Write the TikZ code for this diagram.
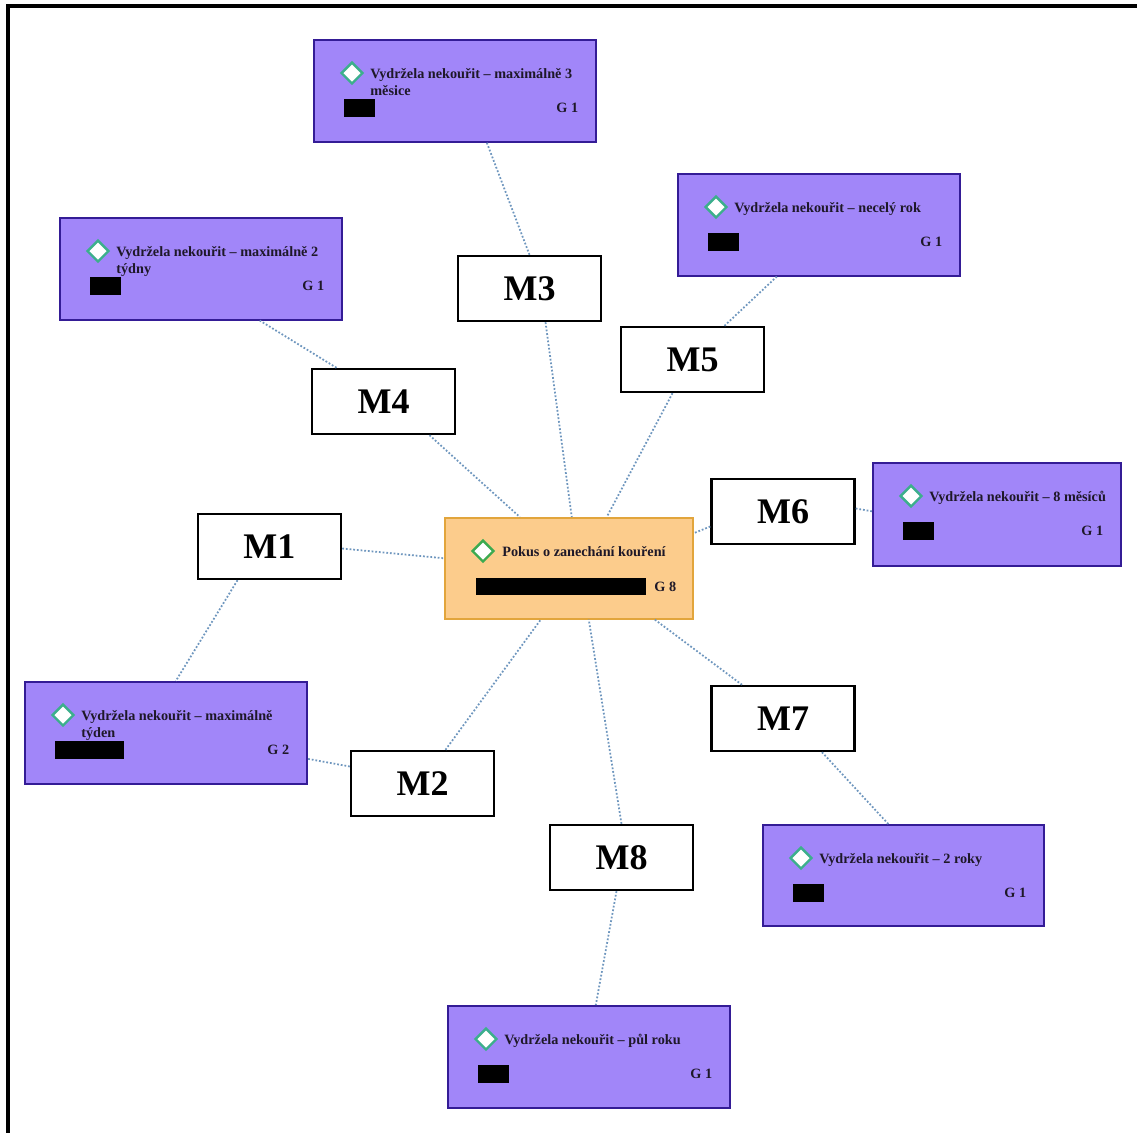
\documentclass[tikz,border=0pt]{standalone}
\usepackage{fontspec}
\setmainfont{Liberation Serif}
\usetikzlibrary{shapes.geometric,calc}

\definecolor{purplefill}{RGB}{161,134,249}
\definecolor{purpleline}{RGB}{52,28,150}
\definecolor{orangefill}{RGB}{252,204,140}
\definecolor{orangeline}{RGB}{226,165,60}
\definecolor{greenmark}{RGB}{60,170,80}
\definecolor{tealmark}{RGB}{60,175,140}
\definecolor{linkblue}{RGB}{110,150,190}
\definecolor{inkdark}{RGB}{30,24,40}

% one outcome box: name, left, top, width, height, first line, group label, bar width
\newcommand\outcome[8]{%
  \node[outbox, minimum width=#4*0.02cm, minimum height=#5*0.02cm] (#1) at (#2,#3) {};
  \node[gem, draw=tealmark] (#1d) at ($(#1.north west)+(39,34)$) {};
  \node[txt, anchor=base west] (#1t) at ($(#1.north west)+(57,39)$) {#6};
  \node[bar, minimum width=#8*0.02cm] (#1b) at ($(#1.north west)+(31,60)$) {};
  \node[txt, anchor=base east] (#1g) at ($(#1.north east)+(-18,73)$) {#7};
}

\begin{document}
\begin{tikzpicture}[x=0.02cm,y=-0.02cm,
  outbox/.style={draw=purpleline, line width=0.9pt, fill=purplefill, inner sep=0, anchor=north west},
  mbox/.style={draw=black, line width=1.4pt, fill=white, minimum width=2.86cm, minimum height=1.3cm,
    inner sep=0, font=\fontsize{20.5}{24}\selectfont\bfseries},
  txt/.style={font=\fontsize{8.1}{9.7}\selectfont\bfseries, text=inkdark, inner sep=0},
  gem/.style={diamond, fill=white, line width=1.4pt, minimum width=0.44cm, minimum height=0.44cm, inner sep=0},
  bar/.style={fill=black, inner sep=0, minimum height=0.36cm, anchor=north west},
  link/.style={draw=linkblue, line width=1pt, dash pattern=on 1pt off 1.1pt}]

\useasboundingbox (0,0) rectangle (1137,1133);
\fill[white] (0,0) rectangle (1137,1133);
% page frame (top and left edges)
\draw[line width=2.1pt] (8,1133) -- (8,6) -- (1137,6);

% central node
\node[draw=orangeline, line width=0.9pt, fill=orangefill, inner sep=0, anchor=north west,
  minimum width=4.96cm, minimum height=2.02cm] (ctr) at (444,517) {};
\node[gem, draw=greenmark] (ctrd) at ($(ctr.north west)+(39,34)$) {};
\node[txt, anchor=base west] (ctrt) at ($(ctr.north west)+(58,39)$) {Pokus o zanechání kouření};
\node[bar, minimum width=3.4cm, minimum height=0.34cm] (ctrb) at ($(ctr.north west)+(32,61)$) {};
\node[txt, anchor=base east] (ctrg) at ($(ctr.north east)+(-17,74)$) {G 8};

% outcome boxes
\outcome{o3}{313}{39}{282}{102}{Vydržela nekouřit – maximálně 3}{G 1}{31}
\node[txt, anchor=base west] (o3t2) at ($(o3t.base west)+(0,17)$) {měsice};
\outcome{o5}{677}{173}{282}{102}{Vydržela nekouřit – necelý rok}{G 1}{31}
\outcome{o4}{59}{217}{282}{102}{Vydržela nekouřit – maximálně 2}{G 1}{31}
\node[txt, anchor=base west] (o4t2) at ($(o4t.base west)+(0,17)$) {týdny};
\outcome{o6}{872}{462}{248}{103}{Vydržela nekouřit – 8 měsíců}{G 1}{31}
\outcome{o1}{24}{681}{282}{102}{Vydržela nekouřit – maximálně}{G 2}{69}
\node[txt, anchor=base west] (o1t2) at ($(o1t.base west)+(0,17)$) {týden};
\outcome{o7}{762}{824}{281}{101}{Vydržela nekouřit – 2 roky}{G 1}{31}
\outcome{o8}{447}{1005}{282}{102}{Vydržela nekouřit – půl roku}{G 1}{31}

% M labels
\node[mbox] (m1) at (269.5,546.5) {M1};
\node[mbox] (m2) at (422.5,783.5) {M2};
\node[mbox] (m3) at (529.5,288.5) {M3};
\node[mbox] (m4) at (383.5,401.5) {M4};
\node[mbox] (m5) at (692.5,359.5) {M5};
\node[mbox] (m6) at (783,511.5) {M6};
\node[mbox] (m7) at (783,718.5) {M7};
\node[mbox] (m8) at (621.5,857.5) {M8};

% connectors
\draw[link] ($(m1.east)+(0,2)$) -- ($(ctr.west)+(0,-10)$);
\draw[link] ($(m1.south)+(-32,0)$) -- ($(o1.north)+(10,0)$);
\draw[link] ($(m2.north)+(23,0)$) -- ($(ctr.south)+(-28,0)$);
\draw[link] ($(m2.west)+(0,-17)$) -- ($(o1.east)+(0,26)$);
\draw[link] ($(m3.south)+(16,0)$) -- ($(ctr.north)+(3,0)$);
\draw[link] (m3.north) -- ($(o3.south)+(32,0)$);
\draw[link] ($(m4.south)+(46,0)$) -- ($(ctr.north)+(-49,0)$);
\draw[link] ($(m4.north)+(-47,0)$) -- ($(o4.south)+(59,0)$);
\draw[link] ($(m5.south)+(-20,0)$) -- ($(ctr.north)+(38,0)$);
\draw[link] ($(m5.north)+(32,0)$) -- ($(o5.south)+(-42,0)$);
\draw[link] ($(m6.west)+(0,15)$) -- ($(ctr.east)+(0,-35)$);
\draw[link] ($(m6.east)+(0,-3)$) -- ($(o6.west)+(0,-3)$);
\draw[link] ($(m7.north)+(-41,0)$) -- ($(ctr.south)+(86,0)$);
\draw[link] ($(m7.south)+(39,0)$) -- ($(o7.north)+(-15,0)$);
\draw[link] (m8.north) -- ($(ctr.south)+(20,0)$);
\draw[link] ($(m8.south)+(-5,0)$) -- ($(o8.north)+(7,0)$);
\end{tikzpicture}
\end{document}
